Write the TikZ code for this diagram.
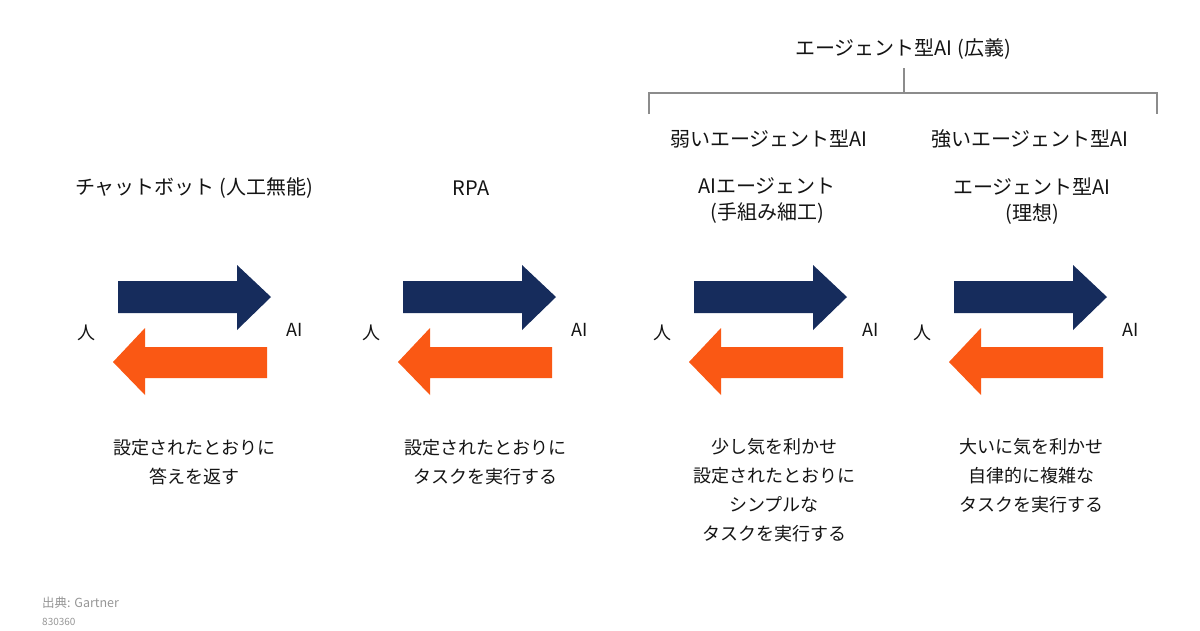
\documentclass[tikz,border=0pt]{standalone}
\usepackage{fontspec}
\setmainfont{Noto Sans CJK JP}
\definecolor{navy}{RGB}{22,44,92}
\definecolor{orng}{RGB}{250,88,20}
\definecolor{txt}{RGB}{20,20,20}
\definecolor{brk}{RGB}{140,140,140}
\definecolor{src}{RGB}{150,150,150}
\begin{document}
\begin{tikzpicture}[x=1pt,y=-1pt,
  lbl/.style={text=txt,font=\fontsize{18}{29}\selectfont,align=center,inner sep=0pt},
  ttl/.style={text=txt,font=\fontsize{20}{26}\selectfont,align=center,inner sep=0pt},
  side/.style={text=txt,font=\fontsize{18}{20}\selectfont,inner sep=0pt},
  bluearrow/.style={fill=navy},
  orangearrow/.style={fill=orng},
  bracket/.style={draw=brk,line width=1.4pt},
  pics/exchange/.style={code={
    \fill[bluearrow] (118,281) -- (237,281) -- (237,265) -- (271,297) -- (237,330) -- (237,313) -- (118,313) -- cycle;
    \fill[orangearrow] (267,347) -- (145,347) -- (145,328) -- (113,362) -- (145,395) -- (145,378) -- (267,378) -- cycle;
    \node[side] (-h) at (86,333) {人};
    \node[side] (-a) at (295,330) {AI};
  }}]
\clip (0,0) rectangle (1200,630);
\fill[white] (0,0) rectangle (1200,630);

% top bracket
\node[ttl] (broad) at (903,49) {エージェント型AI (広義)};
\coordinate (bl) at (649,114);
\coordinate (br) at (1157,114);
\coordinate (bt) at (904,68);
\coordinate (bm) at (904,93);
\draw[bracket] (bl) -- (649,93) -- (1157,93) -- (br);
\draw[bracket] (bt) -- (bm);
\node[ttl] (weak) at (769,139) {弱いエージェント型AI};
\node[ttl] (strong) at (1030,139) {強いエージェント型AI};

% titles
\node[ttl] (t1) at (194,188) {チャットボット (人工無能)};
\node[ttl] (t2) at (471,188) {RPA};
\node[ttl] (t3) at (767,201) {AIエージェント\\(手組み細工)};
\node[ttl] (t4) at (1032,201) {エージェント型AI\\(理想)};

% arrows
\pic (p1) at (0,0) {exchange};
\pic (p2) at (285,0) {exchange};
\pic (p3) at (576,0) {exchange};
\pic (p4) at (836,0) {exchange};

% descriptions
\node[lbl] (d1) at (194,462) {設定されたとおりに\\答えを返す};
\node[lbl] (d2) at (485,462) {設定されたとおりに\\タスクを実行する};
\node[lbl] (d3) at (774,490) {少し気を利かせ\\設定されたとおりに\\シンプルな\\タスクを実行する};
\node[lbl] (d4) at (1031,476) {大いに気を利かせ\\自律的に複雑な\\タスクを実行する};

% source
\node[text=src,font=\fontsize{12.5}{14}\selectfont,anchor=west,inner sep=0pt] (s1) at (42,603) {出典: Gartner};
\node[text=src,font=\fontsize{10}{12}\selectfont,anchor=west,inner sep=0pt] (s2) at (42,622) {830360};
\end{tikzpicture}
\end{document}
